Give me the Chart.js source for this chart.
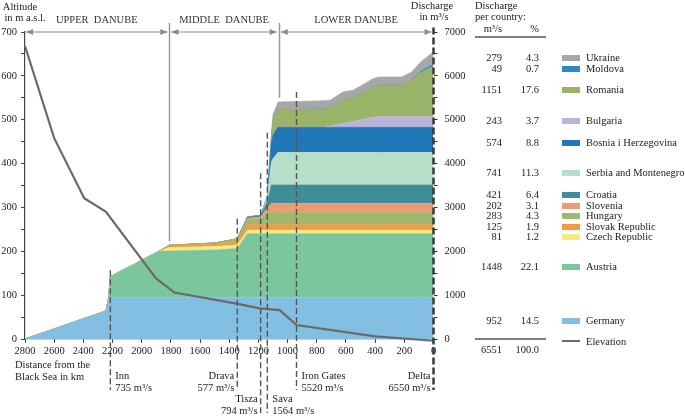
<!DOCTYPE html>
<html>
<head>
<meta charset="utf-8">
<script src="https://cdn.jsdelivr.net/npm/chart.js@4/dist/chart.umd.min.js"></script>
<style>
  body { margin: 0; background: #fff; }
  #wrap { width: 685px; height: 417px; }
</style>
</head>
<body>
<div id="wrap"><canvas id="danube" width="685" height="417"></canvas></div>
<script>
// distance from the Black Sea (km) where the discharge profile is sampled
const km = [2800, 2245, 2225, 2216, 1879, 1810, 1500, 1345, 1275, 1195, 1185, 1139, 1111, 1100, 1066, 756, 710, 619, 550, 413, 389, 367, 217, 149, 92, 0];

// discharge contributed by each country along the river (m3/s)
const germany  = [0, 640, 952, 952, 952, 952, 952, 952, 952, 952, 952, 952, 952, 952, 952, 952, 952, 952, 952, 952, 952, 952, 952, 952, 952, 952];
const austria  = [0, 0, 0, 468, 1054, 1054, 1075, 1110, 1448, 1448, 1448, 1448, 1448, 1448, 1448, 1448, 1448, 1448, 1448, 1448, 1448, 1448, 1448, 1448, 1448, 1448];
const czech    = [0, 0, 0, 0, 0, 81, 81, 81, 81, 81, 81, 81, 81, 81, 81, 81, 81, 81, 81, 81, 81, 81, 81, 81, 81, 81];
const slovak   = [0, 0, 0, 0, 0, 50, 60, 70, 125, 125, 125, 125, 125, 125, 125, 125, 125, 125, 125, 125, 125, 125, 125, 125, 125, 125];
const hungary  = [0, 0, 0, 0, 0, 0, 20, 70, 110, 130, 130, 283, 283, 283, 283, 283, 283, 283, 283, 283, 283, 283, 283, 283, 283, 283];
const slovenia = [0, 0, 0, 0, 0, 0, 0, 0, 35, 40, 40, 100, 202, 202, 202, 202, 202, 202, 202, 202, 202, 202, 202, 202, 202, 202];
const croatia  = [0, 0, 0, 0, 0, 0, 0, 0, 30, 40, 40, 150, 421, 421, 421, 421, 421, 421, 421, 421, 421, 421, 421, 421, 421, 421];
const serbia   = [0, 0, 0, 0, 0, 0, 0, 0, 0, 0, 0, 100, 530, 600, 741, 741, 741, 741, 741, 741, 741, 741, 741, 741, 741, 741];
const bosnia   = [0, 0, 0, 0, 0, 0, 0, 0, 0, 0, 0, 0, 456, 540, 574, 574, 574, 574, 574, 574, 574, 574, 574, 574, 574, 574];
const bulgaria = [0, 0, 0, 0, 0, 0, 0, 0, 0, 0, 0, 0, 0, 0, 0, 0, 30, 91, 137, 228, 243, 243, 243, 243, 243, 243];
const romania  = [0, 0, 0, 0, 0, 0, 0, 0, 0, 0, 0, 0, 100, 350, 394, 420, 400, 532, 524, 697, 710, 721, 721, 835, 995, 1151];
const moldova  = [0, 0, 0, 0, 0, 0, 0, 0, 0, 0, 0, 0, 0, 0, 0, 0, 0, 0, 0, 0, 0, 0, 0, 0, 30, 49];
const ukraine  = [0, 0, 0, 0, 0, 0, 0, 0, 0, 0, 0, 40, 60, 120, 185, 185, 185, 185, 185, 185, 185, 185, 185, 185, 210, 279];

// river elevation profile
const elevKm = [2800, 2600, 2394, 2245, 1902, 1776, 1341, 1192, 1054, 939, 400, 0];
const elevM  = [668, 458, 321, 290, 138, 106, 80, 70, 66, 32, 6, -4];

// tributaries / gauges
const markNames = ['Inn', 'Drava', 'Tisza', 'Sava', 'Iron Gates', 'Delta'];
const markKm    = [2215, 1345, 1185, 1139, 939, 0];
const markFlow  = ['735', '577', '794', '1564', '5520', '6550'];

// river sections
const sectionNames = ['UPPER  DANUBE', 'MIDDLE  DANUBE', 'LOWER DANUBE'];
const sectionKm    = [2800, 1810, 1061, 0];

// table on the right (top to bottom)
const tableNames = ['Ukraine', 'Moldova', 'Romania', 'Bulgaria', 'Bosnia i Herzegovina', 'Serbia and Montenegro',
  'Croatia', 'Slovenia', 'Hungary', 'Slovak Republic', 'Czech Republic', 'Austria', 'Germany'];
const tableFlow  = ['279', '49', '1151', '243', '574', '741', '421', '202', '283', '125', '81', '1448', '952'];
const tableShare = ['4.3', '0.7', '17.6', '3.7', '8.8', '11.3', '6.4', '3.1', '4.3', '1.9', '1.2', '22.1', '14.5'];
const totalFlow = '6551';
const totalShare = '100.0';

// ---- styling / layout ----
const colors = {
  Germany: '#82bfe2', Austria: '#7cc69e', 'Czech Republic': '#f5eb82', 'Slovak Republic': '#f09b45',
  Hungary: '#a2b66e', Slovenia: '#ee9b72', Croatia: '#3f8e97', 'Serbia and Montenegro': '#b5dfc8',
  'Bosnia i Herzegovina': '#1f77b7', Bulgaria: '#bab3da', Romania: '#99b468', Moldova: '#2a8ac8', Ukraine: '#a7a7a9'
};
const rowY = [58, 69, 90, 121, 143, 173, 195, 206, 216, 227, 237, 267, 321];
const markTop = [1570, 2740, 3780, 4700, 5630, 7100]; // where each marker line starts, on the discharge axis
const markSide = ['r', 'l', 'l', 'r', 'r', 'l'];
const markRow = [0, 0, 1, 1, 0, 0];
const FONT = '"Liberation Serif", "Times New Roman", serif';
const FSIZE = 10.5;
const TXT = '#222';

const stack = [
  ['Germany', germany], ['Austria', austria], ['Czech Republic', czech], ['Slovak Republic', slovak],
  ['Hungary', hungary], ['Slovenia', slovenia], ['Croatia', croatia], ['Serbia and Montenegro', serbia],
  ['Bosnia i Herzegovina', bosnia], ['Bulgaria', bulgaria], ['Romania', romania], ['Moldova', moldova], ['Ukraine', ukraine]
];

const datasets = stack.map(([name, vals], i) => ({
  label: name,
  data: km.map((k, j) => ({ x: k, y: vals[j] })),
  yAxisID: 'q',
  backgroundColor: colors[name],
  borderColor: colors[name],
  borderWidth: 0.6,
  pointRadius: 0,
  fill: i === 0 ? 'origin' : '-1',
  order: 2
}));
datasets.push({
  label: 'Elevation',
  data: elevKm.map((k, j) => ({ x: k, y: elevM[j] })),
  yAxisID: 'alt',
  borderColor: '#6a6a6a',
  borderWidth: 2.2,
  pointRadius: 0,
  fill: false,
  clip: false,
  order: 1
});

function txt(ctx, s, x, y, align) {
  ctx.textAlign = align || 'left';
  ctx.fillText(s, x, y);
}

function arrowHead(ctx, x, y, dir) {
  ctx.beginPath();
  ctx.moveTo(x, y);
  ctx.lineTo(x - dir * 7, y - 3);
  ctx.lineTo(x - dir * 7, y + 3);
  ctx.closePath();
  ctx.fill();
}

const annotations = {
  id: 'annotations',
  afterDatasetsDraw(chart) {
    const { ctx, scales: { x, q } } = chart;
    ctx.save();
    // section boundaries
    ctx.strokeStyle = '#9a9a9a';
    ctx.lineWidth = 1.5;
    const divBottom = [2230, 5500];
    [1, 2].forEach((s, i) => {
      const px = Math.round(x.getPixelForValue(sectionKm[s])) + 0.5;
      ctx.beginPath();
      ctx.moveTo(px, 23);
      ctx.lineTo(px, q.getPixelForValue(divBottom[i]));
      ctx.stroke();
    });
    // tributary markers
    markNames.forEach((name, i) => {
      const px = x.getPixelForValue(markKm[i]);
      const delta = name === 'Delta';
      ctx.strokeStyle = delta ? '#3a3a3a' : '#555';
      ctx.lineWidth = delta ? 2.5 : 1.4;
      ctx.setLineDash(delta ? [7, 3] : [6, 3]);
      ctx.beginPath();
      ctx.moveTo(px, q.getPixelForValue(markTop[i]));
      ctx.lineTo(px, markRow[i] ? 413 : 390);
      ctx.stroke();
    });
    ctx.restore();
  },
  afterDraw(chart) {
    const { ctx, scales: { x } } = chart;
    ctx.save();
    ctx.font = FSIZE + 'px ' + FONT;
    ctx.fillStyle = TXT;
    ctx.textBaseline = 'middle';

    // section headers with arrows
    sectionNames.forEach((name, i) => {
      const x0 = x.getPixelForValue(sectionKm[i]) + (i === 0 ? 1 : 2);
      const x1 = x.getPixelForValue(sectionKm[i + 1]) - 2;
      ctx.strokeStyle = '#8a8a8a';
      ctx.fillStyle = '#8a8a8a';
      ctx.lineWidth = 1.2;
      ctx.beginPath();
      ctx.moveTo(x0, 32);
      ctx.lineTo(x1, 32);
      ctx.stroke();
      arrowHead(ctx, x0, 32, -1);
      arrowHead(ctx, x1, 32, 1);
      ctx.fillStyle = '#333';
      txt(ctx, name, (x0 + x1) / 2, 20, 'center');
    });
    ctx.fillStyle = TXT;

    // axis titles
    txt(ctx, 'Altitude', 20, 7, 'center');
    txt(ctx, 'in m a.s.l.', 25, 18, 'center');
    txt(ctx, 'Discharge', 432, 6, 'center');
    txt(ctx, 'in m³/s', 434, 17, 'center');
    txt(ctx, 'Distance from the', 15, 365);
    txt(ctx, 'Black Sea in km', 15, 377);

    // marker labels
    markNames.forEach((name, i) => {
      const px = x.getPixelForValue(markKm[i]);
      const y0 = 376 + markRow[i] * 23;
      const right = markSide[i] === 'r';
      const tx = right ? px + 5 : px - 3;
      const al = right ? 'left' : 'right';
      txt(ctx, name, tx, y0, al);
      txt(ctx, markFlow[i] + ' m³/s', tx, y0 + 12, al);
    });

    // table
    txt(ctx, 'Discharge', 475, 6);
    txt(ctx, 'per country:', 475, 17);
    txt(ctx, 'm³/s', 502, 29, 'right');
    txt(ctx, '%', 539, 29, 'right');
    ctx.strokeStyle = '#555';
    ctx.lineWidth = 1.5;
    ctx.beginPath();
    ctx.moveTo(475, 37); ctx.lineTo(546, 37);
    ctx.moveTo(475, 339); ctx.lineTo(546, 339);
    ctx.stroke();
    tableNames.forEach((name, i) => {
      const y = rowY[i];
      ctx.fillStyle = TXT;
      txt(ctx, tableFlow[i], 502, y, 'right');
      txt(ctx, tableShare[i], 539, y, 'right');
      txt(ctx, name, 586, y);
      ctx.fillStyle = colors[name];
      ctx.fillRect(562, y - 3, 18, 6);
    });
    ctx.fillStyle = TXT;
    txt(ctx, totalFlow, 502, 350, 'right');
    txt(ctx, totalShare, 539, 350, 'right');
    ctx.strokeStyle = '#6a6a6a';
    ctx.lineWidth = 2;
    ctx.beginPath();
    ctx.moveTo(562, 341); ctx.lineTo(580, 341);
    ctx.stroke();
    txt(ctx, 'Elevation', 586, 342);
    ctx.restore();
  }
};

const tickFont = { family: FONT, size: FSIZE };

new Chart(document.getElementById('danube'), {
  type: 'line',
  data: { datasets },
  options: {
    responsive: false,
    animation: false,
    devicePixelRatio: 1,
    layout: { padding: { top: 32, left: 0, right: 0, bottom: 0 } },
    plugins: { legend: { display: false }, tooltip: { enabled: false } },
    elements: { line: { tension: 0 } },
    scales: {
      x: {
        type: 'linear', reverse: true, min: 0, max: 2800,
        ticks: { stepSize: 200, autoSkip: false, maxRotation: 0, padding: 2, color: TXT, font: tickFont, callback: v => String(v) },
        grid: { drawOnChartArea: false, tickLength: 4, color: '#444' },
        border: { color: '#444', width: 1.2 },
        afterFit(s) { s.height = 78; }
      },
      alt: {
        position: 'left', min: 0, max: 700,
        ticks: { stepSize: 50, padding: 4, color: TXT, font: tickFont, callback: v => (v % 100 === 0 ? String(v) : '') },
        grid: { drawOnChartArea: false, tickLength: 4, color: '#444' },
        border: { color: '#444', width: 1.2 },
        afterFit(s) { s.width = 25; }
      },
      q: {
        position: 'right', min: 0, max: 7000, stacked: true,
        ticks: { stepSize: 500, padding: 7, color: TXT, font: tickFont, callback: v => (v % 1000 === 0 ? String(v) : '') },
        grid: { drawOnChartArea: false, tickLength: 4, color: '#333' },
        border: { display: false },
        afterFit(s) { s.width = 685 - 433.5; }
      }
    }
  },
  plugins: [annotations]
});
</script>
</body>
</html>
